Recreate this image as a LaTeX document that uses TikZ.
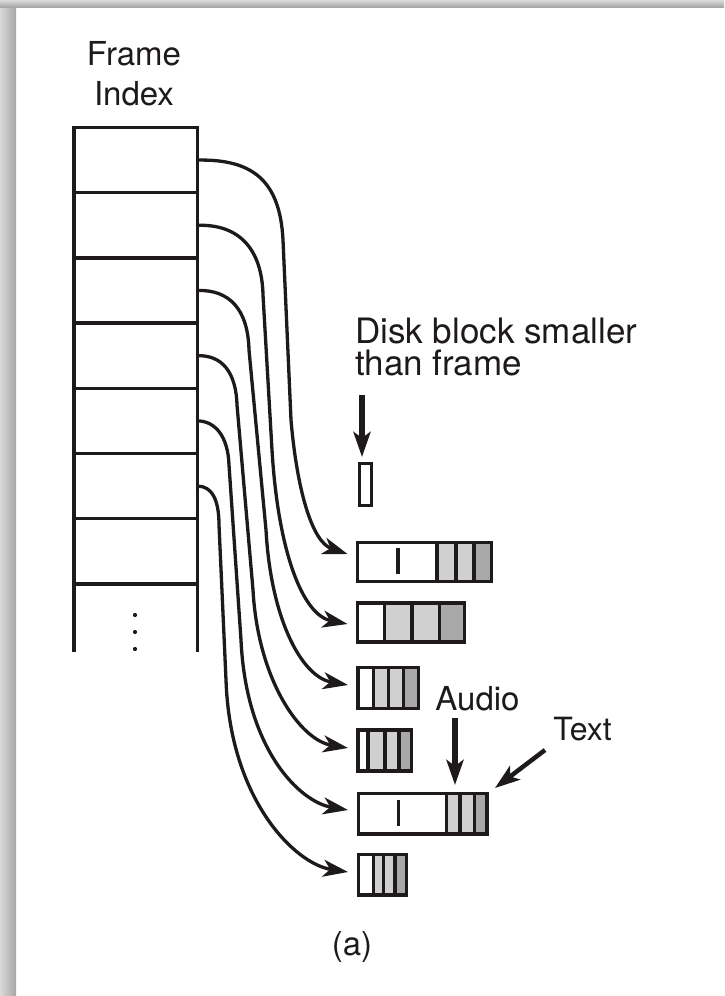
\documentclass[tikz,border=0pt]{standalone}
\usepackage{fontspec}
\setmainfont{TeX Gyre Heros}
\usetikzlibrary{arrows.meta,calc}
\definecolor{ink}{HTML}{1E1A1B}
\definecolor{cellL}{HTML}{D0D0D0}
\definecolor{cellD}{HTML}{A8A8A8}
\definecolor{bandA}{HTML}{DADADA}
\definecolor{bandB}{HTML}{A6A6A6}
\begin{document}
\begin{tikzpicture}[x=1pt,y=-1pt,
  rowcell/.style={draw=ink,line width=3.5pt,minimum width=123.5pt,minimum height=65.2pt,inner sep=0pt,outer sep=0pt},
  tbl/.style={draw=ink,line width=3.5pt},
  blk/.style={draw=ink,line width=3.5pt,inner sep=0pt,outer sep=0pt},
  divl/.style={draw=ink,line width=3.4pt},
  ibar/.style={draw=ink,line width=3.8pt},
  link/.style={draw=ink,line width=3.3pt,-{Stealth[length=25pt,width=17pt,inset=7pt]}},
  thickarr/.style={draw=ink,line width=5.5pt,-{Stealth[length=25pt,width=17pt,inset=6pt]}},
  lbl/.style={inner sep=0pt,outer sep=0pt,text=ink}
]
\useasboundingbox (0,0) rectangle (724,996);
\fill[white] (0,0) rectangle (724,996);
\shade[left color=bandA,right color=bandB] (0,0) rectangle (16,996);
\shade[top color=bandA,bottom color=bandB] (0,0) rectangle (724,7);

% frame index table
\node[lbl,anchor=north,align=center,font=\fontsize{33}{40}\selectfont] (ftitle) at (134,41) {Frame\\Index};
\foreach \i in {1,...,7}
  \node[rowcell] (r\i) at (135.75,{127.5+65.2*(\i-0.5)}) {};
\draw[tbl] (r7.south west) -- ++(0,68);
\draw[tbl] (r7.south east) -- ++(0,68);
\foreach \yy in {615,632,649}
  \fill[ink] (135,\yy) circle (2.1pt);

% disk block smaller than frame
\node[lbl,anchor=north west,align=left,font=\fontsize{35}{32}\selectfont] (dlab) at (355,318) {Disk block smaller\\than frame};
\node[blk,line width=3pt,minimum width=12pt,minimum height=42pt] (b0) at (365,484) {};
\draw[thickarr] ($(dlab.south west)+(7,19)$) -- ($(b0.north)+(-3,-6)$);

% block 1
\fill[cellL] (437,542.5) rectangle (474,581.5);
\fill[cellD] (474,542.5) rectangle (491.5,581.5);
\node[blk,minimum width=134pt,minimum height=39pt] (b1) at (424.5,562) {};
\foreach \xx in {437,456,474} \draw[divl] (\xx,542.5) -- (\xx,581.5);
\draw[ibar] (398,548) -- (398,574);

% block 2
\fill[cellL] (384.5,603) rectangle (439.5,642);
\fill[cellD] (439.5,603) rectangle (464.5,642);
\node[blk,minimum width=107pt,minimum height=39pt] (b2) at (411,622.5) {};
\foreach \xx in {384.5,412,439.5} \draw[divl] (\xx,603) -- (\xx,642);

% block 3
\fill[cellL] (373.5,667.5) rectangle (403.5,708.5);
\fill[cellD] (403.5,667.5) rectangle (418.5,708.5);
\node[blk,minimum width=60.5pt,minimum height=41pt] (b3) at (388.25,688) {};
\foreach \xx in {373.5,388.5,403.5} \draw[divl] (\xx,667.5) -- (\xx,708.5);

% block 4
\fill[cellL] (368,730) rectangle (399,771);
\fill[cellD] (399,730) rectangle (411.5,771);
\node[blk,minimum width=53.5pt,minimum height=41pt] (b4) at (384.75,750.5) {};
\foreach \xx in {368,385,399} \draw[divl] (\xx,730) -- (\xx,771);

% block 5
\fill[cellL] (446.5,793.5) rectangle (474.5,834);
\fill[cellD] (474.5,793.5) rectangle (487,834);
\node[blk,minimum width=128.5pt,minimum height=40.5pt] (b5) at (422.75,813.75) {};
\foreach \xx in {446.5,460,474.5} \draw[divl] (\xx,793.5) -- (\xx,834);
\draw[ibar] (398.5,800) -- (398.5,826);

% block 6
\fill[cellL] (373.5,854.5) rectangle (395,895);
\fill[cellD] (395,854.5) rectangle (406.5,895);
\node[blk,minimum width=48pt,minimum height=40.5pt] (b6) at (382.5,874.75) {};
\foreach \xx in {373.5,383.5,395} \draw[divl] (\xx,854.5) -- (\xx,895);

% labels Audio / Text
\node[lbl,anchor=base,font=\fontsize{33}{40}\selectfont] (audio) at (477.5,710) {Audio};
\node[lbl,anchor=base,font=\fontsize{32}{40}\selectfont] (txt) at (582.5,740) {Text};
\draw[thickarr] ($(audio.base)+(-22.5,8)$) -- ($(b5.north east)+(-32,-8.5)$);
\draw[thickarr,line width=4.5pt] ($(txt.base)+(-37.5,10)$) -- ($(b5.north east)+(8,-5.5)$);

% curved pointers from frame index to blocks
\draw[link] (r1.east) .. controls (252,159) and (280,180) .. (283,240) -- (291,420) .. controls (297,490) and (312,542) .. ($(b1.west)+(-10,-8)$);
\draw[link] (r2.east) .. controls (240,224) and (262,250) .. (263,295) -- (272,450) .. controls (278,550) and (302,615) .. ($(b2.west)+(-10,1.5)$);
\draw[link] (r3.east) .. controls (230,289.5) and (248,310) .. (249,350) -- (266,530) .. controls (271,620) and (302,677) .. ($(b3.west)+(-10,-3)$);
\draw[link] (r4.east) .. controls (222,355) and (236,372) .. (237,405) -- (253,590) .. controls (258,680) and (300,740) .. ($(b4.west)+(-10,-2.5)$);
\draw[link] (r5.east) .. controls (215,421) and (228,436) .. (229,465) -- (241,640) .. controls (246,750) and (300,802) .. ($(b5.west)+(-10.5,-3.75)$);
\draw[link] (r6.east) .. controls (212,486) and (219,500) .. (219,525) -- (226,680) .. controls (230,800) and (295,864) .. ($(b6.west)+(-10.5,-2.75)$);

% caption
\node[lbl,anchor=base,font=\fontsize{33}{40}\selectfont] (cap) at (352,955) {(a)};
\end{tikzpicture}
\end{document}
